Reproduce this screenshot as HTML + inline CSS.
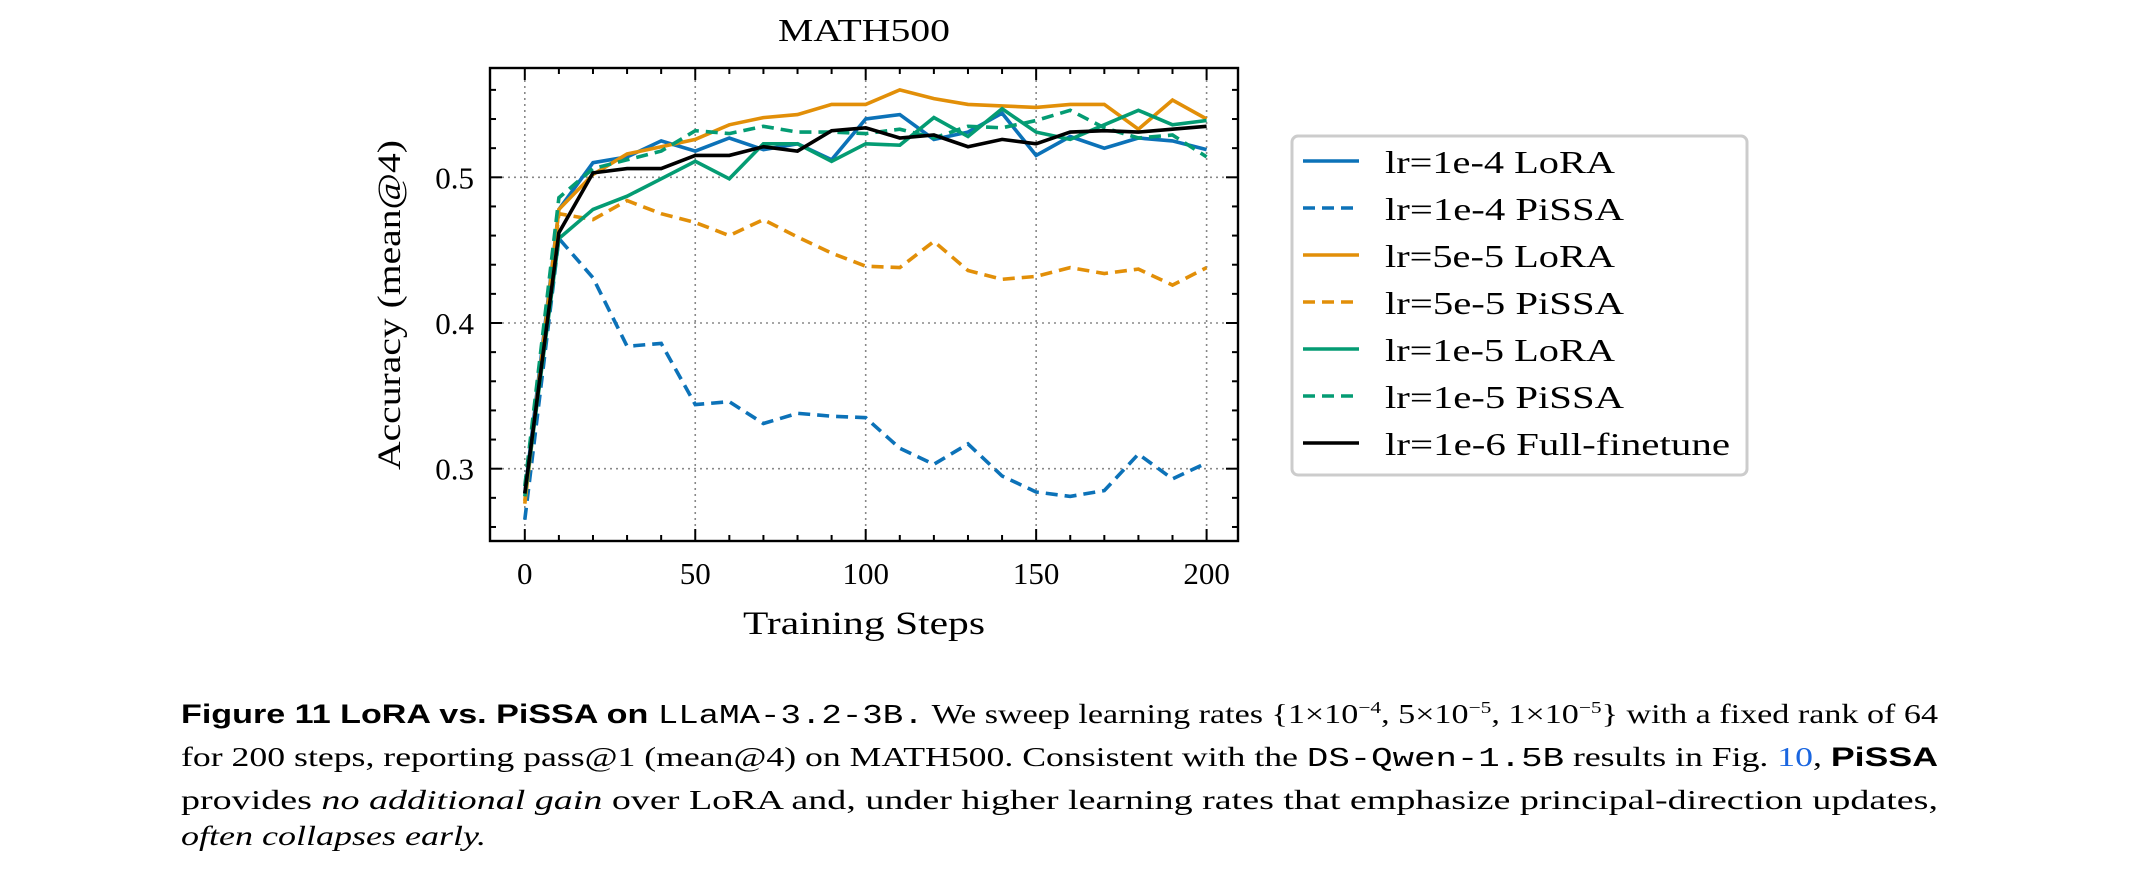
<!DOCTYPE html>
<html><head><meta charset="utf-8">
<style>
html,body{margin:0;padding:0;background:#fff;}
svg{display:block;}
text{font-family:"Liberation Serif",serif;fill:#000;}
</style></head>
<body>
<svg id="chart" width="2130" height="888" viewBox="0 0 2130 888" xmlns="http://www.w3.org/2000/svg">
<g id="plot"></g>
<text x="864" y="41" font-size="32" text-anchor="middle" textLength="172" lengthAdjust="spacingAndGlyphs">MATH500</text>
<text x="864" y="634" font-size="33" text-anchor="middle" textLength="242" lengthAdjust="spacingAndGlyphs">Training Steps</text>
<text transform="translate(400,305) rotate(-90)" font-size="33" text-anchor="middle" textLength="330" lengthAdjust="spacingAndGlyphs">Accuracy (mean@4)</text>
<g id="legend">
<rect x="1292" y="136" width="455" height="339" rx="6" fill="#fff" stroke="#cccccc" stroke-width="3"/>
</g>
<g>
<text x="181" y="723" font-size="27" textLength="1757" lengthAdjust="spacingAndGlyphs"><tspan font-family="Liberation Sans" font-weight="bold">Figure 11  LoRA vs. PiSSA on </tspan><tspan font-family="Liberation Mono">LLaMA-3.2-3B.</tspan> We sweep learning rates {1×10<tspan dy="-10" font-size="17">−4</tspan><tspan dy="10">, 5×10</tspan><tspan dy="-10" font-size="17">−5</tspan><tspan dy="10">, 1×10</tspan><tspan dy="-10" font-size="17">−5</tspan><tspan dy="10">} with a fixed rank of 64</tspan></text>
<text x="181" y="766" font-size="27" textLength="1757" lengthAdjust="spacingAndGlyphs">for 200 steps, reporting pass@1 (mean@4) on MATH500. Consistent with the <tspan font-family="Liberation Mono">DS-Qwen-1.5B</tspan> results in Fig. <tspan fill="#1a66e0">10</tspan>, <tspan font-family="Liberation Sans" font-weight="bold">PiSSA</tspan></text>
<text x="181" y="809" font-size="27" textLength="1757" lengthAdjust="spacingAndGlyphs">provides <tspan font-style="italic">no additional gain</tspan> over LoRA and, under higher learning rates that emphasize principal-direction updates,</text>
<text x="181" y="845" font-size="27" font-style="italic" textLength="305" lengthAdjust="spacingAndGlyphs">often collapses early.</text>
</g>
</svg>
<script>
const steps = [0,10,20,30,40,50,60,70,80,90,100,110,120,130,140,150,160,170,180,190,200];
const lora1e4 = [0.283,0.478,0.510,0.514,0.525,0.518,0.527,0.519,0.523,0.512,0.540,0.543,0.526,0.531,0.544,0.515,0.528,0.520,0.527,0.525,0.519];
const pissa1e4 = [0.265,0.458,0.431,0.384,0.386,0.344,0.346,0.331,0.338,0.336,0.335,0.314,0.303,0.317,0.295,0.284,0.281,0.285,0.310,0.293,0.304];
const lora5e5 = [0.276,0.478,0.502,0.516,0.521,0.526,0.536,0.541,0.543,0.550,0.550,0.560,0.554,0.550,0.549,0.548,0.550,0.550,0.533,0.553,0.540];
const pissa5e5 = [0.278,0.475,0.471,0.484,0.475,0.469,0.460,0.471,0.459,0.448,0.439,0.438,0.456,0.436,0.430,0.432,0.438,0.434,0.437,0.426,0.438];
const lora1e5 = [0.281,0.458,0.478,0.487,0.499,0.511,0.499,0.523,0.523,0.511,0.523,0.522,0.541,0.528,0.547,0.531,0.526,0.536,0.546,0.536,0.539];
const pissa1e5 = [0.288,0.486,0.506,0.512,0.518,0.532,0.530,0.535,0.531,0.531,0.530,0.533,0.527,0.535,0.534,0.539,0.546,0.534,0.527,0.529,0.514];
const full1e6 = [0.283,0.462,0.503,0.506,0.506,0.515,0.515,0.521,0.518,0.532,0.534,0.527,0.529,0.521,0.526,0.523,0.531,0.532,0.531,0.533,0.535];
const seriesNames = ["lr=1e-4 LoRA","lr=1e-4 PiSSA","lr=5e-5 LoRA","lr=5e-5 PiSSA","lr=1e-5 LoRA","lr=1e-5 PiSSA","lr=1e-6 Full-finetune"];
const xTicks = [0,50,100,150,200];
const yTicks = [0.3,0.4,0.5];

const NS="http://www.w3.org/2000/svg";
const L=490,R=1238,T=68,B=541;
const X0=524.8,X200=1206.6;
const xs=v=>X0+(v/200)*(X200-X0);
const ys=v=>177.3-(v-0.5)*1457;
function mk(tag,attrs,parent){const e=document.createElementNS(NS,tag);for(const k in attrs)e.setAttribute(k,attrs[k]);parent.appendChild(e);return e;}
const plot=document.getElementById('plot');

xTicks.forEach(t=>{const g=mk('line',{x1:xs(t),x2:xs(t),y1:T,y2:B,stroke:'#888',"stroke-width":1.6,"stroke-dasharray":'2,4'},plot);

});
yTicks.forEach(t=>{const g=mk('line',{x1:L,x2:R,y1:ys(t),y2:ys(t),stroke:'#888',"stroke-width":1.6,"stroke-dasharray":'2,4'},plot);

});

const colors=['#0c72b8','#0c72b8','#e28f08','#e28f08','#049c73','#049c73','#000'];
const dashed=[false,true,false,true,false,true,false];
const data=[lora1e4,pissa1e4,lora5e5,pissa5e5,lora1e5,pissa1e5,full1e6];
const lineNames=['line-lr1e-4-lora','line-lr1e-4-pissa','line-lr5e-5-lora','line-lr5e-5-pissa','line-lr1e-5-lora','line-lr1e-5-pissa','line-lr1e-6-full-finetune'];
data.forEach((d,i)=>{
  const pts=d.map((v,j)=>xs(steps[j]).toFixed(1)+','+ys(v).toFixed(1)).join(' ');
  const p=mk('polyline',{points:pts,fill:'none',stroke:colors[i],"stroke-width":3.6,"stroke-linejoin":'miter'},plot);
  if(dashed[i])p.setAttribute('stroke-dasharray','12,7');
  
  
});

const fr=mk('rect',{x:L,y:T,width:R-L,height:B-T,fill:'none',stroke:'#000',"stroke-width":2.4},plot);



for(let t=0;t<=200;t+=10){const maj=t%50===0;const len=maj?12:6;
 mk('line',{x1:xs(t),x2:xs(t),y1:B,y2:B-len,stroke:'#000',"stroke-width":2},plot);
 mk('line',{x1:xs(t),x2:xs(t),y1:T,y2:T+len,stroke:'#000',"stroke-width":2},plot);}
for(let k=13;k<=28;k++){const v=k*0.02;const y=ys(v);if(y<T||y>B)continue;const maj=(k%5===0);const len=maj?12:6;
 mk('line',{x1:L,x2:L+len,y1:y,y2:y,stroke:'#000',"stroke-width":2},plot);
 mk('line',{x1:R,x2:R-len,y1:y,y2:y,stroke:'#000',"stroke-width":2},plot);}

xTicks.forEach(t=>{const e=mk('text',{x:xs(t),y:584,"font-size":31,"text-anchor":'middle'},plot);e.textContent=t;

});
yTicks.forEach(t=>{const e=mk('text',{x:474,y:ys(t)+11,"font-size":31,"text-anchor":'end'},plot);e.textContent=t.toFixed(1);

});

const lg=document.getElementById('legend');
const ly=[161,208,255,302,349,396,443];
const tl=[230,239,230,239,230,239,345];
seriesNames.forEach((n,i)=>{
  const g=mk('g',{},lg);
  
  
  const ln=mk('line',{x1:1303,x2:1359,y1:ly[i],y2:ly[i],stroke:colors[i],"stroke-width":3.6},g);
  if(dashed[i])ln.setAttribute('stroke-dasharray','12,7');
  const tx=mk('text',{x:1385,y:ly[i]+12,"font-size":32,textLength:tl[i],lengthAdjust:'spacingAndGlyphs'},g);
  tx.textContent=n;
});
</script>
</body></html>
